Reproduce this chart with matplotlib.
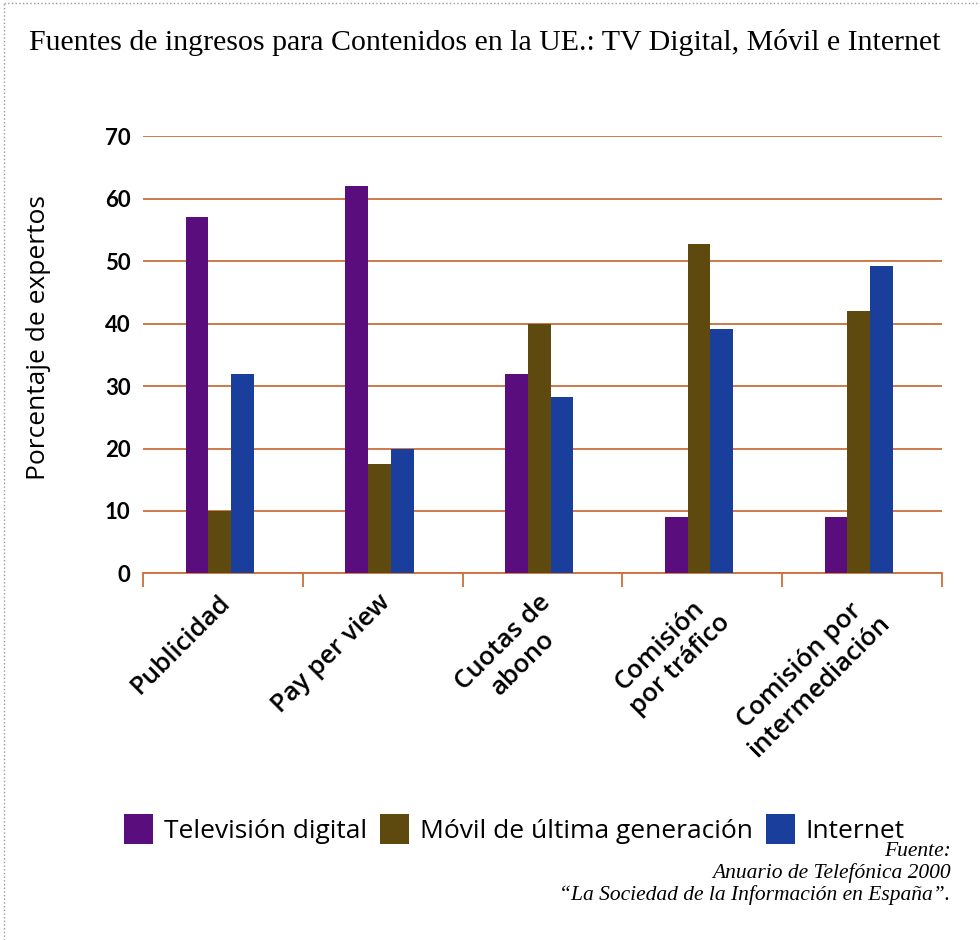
import matplotlib.pyplot as plt
from matplotlib.patches import Patch
from matplotlib.lines import Line2D
import numpy as np

# data
categorias = ["Publicidad", "Pay per view", "Cuotas de\nabono",
              "Comisión\npor tráfico", "Comisión por\nintermediación"]
tv_digital = [57, 62, 32, 9, 9]
movil = [10, 17.6, 40, 52.8, 42]
internet = [32, 20, 28.2, 39.2, 49.3]
series = ["Televisión digital", "Móvil de última generación", "Internet"]
yticks = [0, 10, 20, 30, 40, 50, 60, 70]

colores = ["#5a0d7c", "#5e4a0e", "#1a3e9c"]
naranja = "#c8703c"

fig = plt.figure(figsize=(9.8, 9.4), dpi=100)
ax = fig.add_axes([0.146, 0.390, 0.815, 0.465])

centros = np.arange(len(categorias)) + 0.5
ancho = 0.142
for i, (vals, col) in enumerate(zip([tv_digital, movil, internet], colores)):
    ax.bar(centros + (i - 1) * ancho - 0.02, vals, width=ancho, color=col,
           zorder=3, label=series[i])

ax.set_xlim(0, len(categorias))
ax.set_ylim(0, 70)
ax.set_yticks(yticks)
ax.set_yticklabels([str(v) for v in yticks], fontsize=16, fontweight="bold",
                   family="Lato")
ax.tick_params(axis="y", length=0, pad=9)
ax.yaxis.grid(True, color=naranja, linewidth=1.3, zorder=0)

# boundary ticks (major) and category labels (minor)
ax.set_xticks(np.arange(len(categorias) + 1))
ax.set_xticklabels([])
ax.tick_params(axis="x", which="major", length=10, width=1.3, color=naranja,
               direction="out")
ax.set_xticks(centros - 0.03, minor=True)
ax.set_xticklabels(categorias, minor=True, rotation=45, ha="right", va="top",
                   rotation_mode="anchor", fontsize=18.5, fontweight="semibold",
                   family="Open Sans", multialignment="center")
ax.tick_params(axis="x", which="minor", length=0, pad=12)

for s in ["top", "right", "left"]:
    ax.spines[s].set_visible(False)
ax.spines["bottom"].set_color(naranja)
ax.spines["bottom"].set_linewidth(1.3)

ax.set_ylabel("Porcentaje de expertos", fontsize=19, family="Open Sans")
ax.yaxis.set_label_coords(-0.115, 0.54)

fig.text(0.495, 0.955, "Fuentes de ingresos para Contenidos en la UE.: TV Digital, Móvil e Internet",
         ha="center", va="center", fontsize=21.5, family="Liberation Serif")

handles = [Patch(facecolor=c, edgecolor="none") for c in colores]
fig.legend(handles, series, loc="center", bbox_to_anchor=(0.525, 0.118), ncol=3,
           frameon=False, handlelength=1.1, handleheight=1.4,
           handletextpad=0.4, columnspacing=0.5,
           prop={"family": "Open Sans", "size": 19})

fig.text(0.97, 0.104, "Fuente:\nAnuario de Telefónica 2000\n“La Sociedad de la Información en España”.",
         ha="right", va="top", fontsize=15.5, style="italic",
         family="Liberation Serif", linespacing=1.12)

# dotted frame on top and left
fig.add_artist(Line2D([0.004, 1.0], [0.997, 0.997], transform=fig.transFigure,
                      color="#999999", linestyle=":", linewidth=1))
fig.add_artist(Line2D([0.004, 0.004], [0.0, 0.997], transform=fig.transFigure,
                      color="#999999", linestyle=":", linewidth=1))

fig.savefig("out.png", dpi=100)
